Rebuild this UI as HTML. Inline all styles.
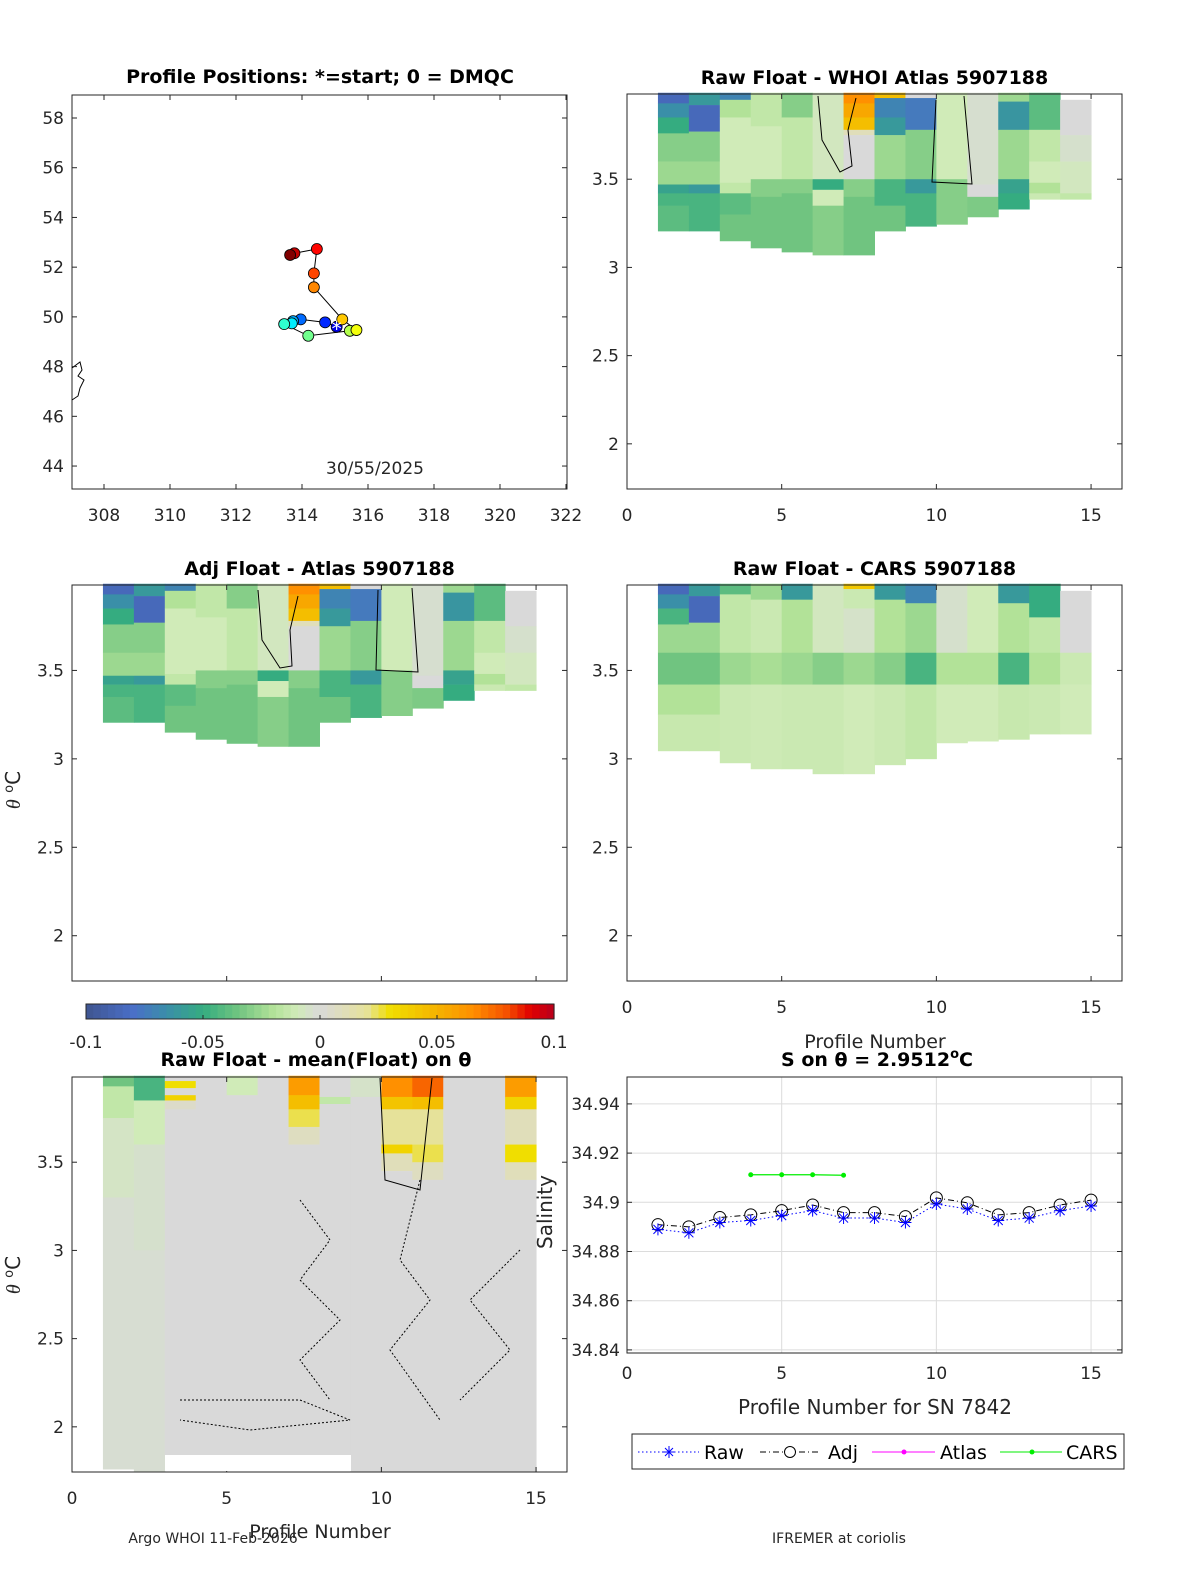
<!DOCTYPE html>
<html><head><meta charset="utf-8">
<style>
html,body{margin:0;padding:0;background:#fff;}
svg{display:block;font-family:"DejaVu Sans","Liberation Sans",sans-serif;}
.t{font-size:19px;font-weight:bold;text-anchor:middle;}
.tk{font-size:17px;fill:#262626;}
</style></head>
<body>
<svg id="fig" width="1200" height="1575" viewBox="0 0 1200 1575" xmlns="http://www.w3.org/2000/svg"></svg>
<script>
// ---- Map data (profile positions) ----
const mapLon = [315.05,314.70,313.96,313.73,313.69,313.46,314.19,315.45,315.65,315.22,314.36,314.36,314.45,313.77,313.64];
const mapLat = [49.60,49.78,49.90,49.83,49.74,49.71,49.24,49.44,49.47,49.90,51.19,51.75,52.73,52.56,52.49];
const mapXTicks = [308,310,312,314,316,318,320,322];
const mapYTicks = [44,46,48,50,52,54,56,58];
// ---- Salinity on theta ----
const profiles = [1,2,3,4,5,6,7,8,9,10,11,12,13,14,15];
const rawSal = [34.889,34.8876,34.8918,34.8926,34.8946,34.8966,34.8936,34.8936,34.8918,34.8993,34.8973,34.8926,34.8936,34.8966,34.8985];
const adjSal = [34.8909,34.8900,34.8938,34.8949,34.8966,34.8989,34.8958,34.8958,34.8942,34.9018,34.8998,34.8949,34.8958,34.8989,34.9009];
const carsProf = [4,5,6,7];
const carsSal = [34.9112,34.9112,34.9112,34.9110];
const salTicks = [34.84,34.86,34.88,34.9,34.92,34.94];
const profTicks = [0,5,10,15];
const thetaTicks = [2,2.5,3,3.5];
const cbTicks = [-0.1,-0.05,0,0.05,0.1];
// ---- Heatmaps: per column (profile p spans p..p+1) segments [thetaTop, thetaBottom, value] ----
const rawAtlas = [
 [[3.99,3.93,-0.085],[3.93,3.85,-0.065],[3.85,3.76,-0.05],[3.76,3.6,-0.03],[3.6,3.47,-0.025],[3.47,3.42,-0.055],[3.42,3.35,-0.045],[3.35,3.206,-0.04]],
 [[3.99,3.92,-0.06],[3.92,3.77,-0.085],[3.77,3.6,-0.03],[3.6,3.47,-0.025],[3.47,3.42,-0.06],[3.42,3.206,-0.045]],
 [[3.99,3.95,-0.07],[3.95,3.85,-0.02],[3.85,3.48,-0.01],[3.48,3.42,-0.015],[3.42,3.3,-0.04],[3.3,3.15,-0.035]],
 [[3.99,3.8,-0.015],[3.8,3.5,-0.01],[3.5,3.4,-0.03],[3.4,3.11,-0.035]],
 [[3.99,3.85,-0.03],[3.85,3.5,-0.015],[3.5,3.42,-0.03],[3.42,3.087,-0.035]],
 [[3.99,3.5,-0.008],[3.5,3.44,-0.05],[3.44,3.35,-0.01],[3.35,3.07,-0.03]],
 [[3.99,3.93,0.065],[3.93,3.85,0.055],[3.85,3.78,0.045],[3.78,3.75,0.01],[3.75,3.5,0],[3.5,3.4,-0.03],[3.4,3.07,-0.035]],
 [[3.99,3.96,0.045],[3.96,3.85,-0.07],[3.85,3.75,-0.06],[3.75,3.5,-0.025],[3.5,3.35,-0.045],[3.35,3.206,-0.035]],
 [[3.99,3.96,0],[3.96,3.78,-0.075],[3.78,3.5,-0.03],[3.5,3.42,-0.06],[3.42,3.233,-0.045]],
 [[3.99,3.5,-0.01],[3.5,3.244,-0.03]],
 [[3.99,3.47,-0.003],[3.47,3.4,0],[3.4,3.286,-0.032]],
 [[3.99,3.94,-0.025],[3.94,3.78,-0.062],[3.78,3.5,-0.025],[3.5,3.42,-0.055],[3.42,3.33,-0.05]],
 [[3.99,3.78,-0.04],[3.78,3.6,-0.015],[3.6,3.48,-0.01],[3.48,3.42,-0.02],[3.42,3.386,-0.012]],
 [[3.95,3.75,0],[3.75,3.6,-0.004],[3.6,3.42,-0.008],[3.42,3.386,-0.015]]
];
const adjAtlas = rawAtlas;
const rawCars = [
 [[3.99,3.93,-0.085],[3.93,3.85,-0.065],[3.85,3.76,-0.045],[3.76,3.6,-0.025],[3.6,3.42,-0.035],[3.42,3.25,-0.02],[3.25,3.045,-0.013]],
 [[3.99,3.92,-0.06],[3.92,3.77,-0.085],[3.77,3.6,-0.025],[3.6,3.42,-0.035],[3.42,3.25,-0.02],[3.25,3.045,-0.013]],
 [[3.99,3.93,-0.04],[3.93,3.6,-0.015],[3.6,3.42,-0.025],[3.42,2.977,-0.012]],
 [[3.99,3.9,-0.025],[3.9,3.6,-0.012],[3.6,3.42,-0.022],[3.42,2.943,-0.011]],
 [[3.99,3.9,-0.06],[3.9,3.6,-0.02],[3.6,3.42,-0.025],[3.42,2.943,-0.012]],
 [[3.99,3.6,-0.008],[3.6,3.42,-0.03],[3.42,2.915,-0.012]],
 [[3.99,3.96,0.04],[3.96,3.85,-0.012],[3.85,3.6,-0.005],[3.6,3.42,-0.025],[3.42,2.915,-0.01]],
 [[3.99,3.9,-0.06],[3.9,3.6,-0.02],[3.6,3.42,-0.03],[3.42,2.966,-0.012]],
 [[3.99,3.88,-0.07],[3.88,3.6,-0.025],[3.6,3.42,-0.045],[3.42,3.0,-0.015]],
 [[3.99,3.6,-0.004],[3.6,3.42,-0.02],[3.42,3.09,-0.01]],
 [[3.99,3.6,-0.01],[3.6,3.42,-0.02],[3.42,3.1,-0.01]],
 [[3.99,3.88,-0.06],[3.88,3.6,-0.02],[3.6,3.42,-0.045],[3.42,3.11,-0.013]],
 [[3.99,3.8,-0.05],[3.8,3.6,-0.015],[3.6,3.42,-0.02],[3.42,3.14,-0.012]],
 [[3.95,3.6,0],[3.6,3.42,-0.012],[3.42,3.14,-0.01]]
];
const rawMean = [
 [[3.99,3.93,-0.035],[3.93,3.75,-0.015],[3.75,3.3,-0.006],[3.3,1.76,-0.002]],
 [[3.99,3.85,-0.045],[3.85,3.6,-0.01],[3.6,3.0,-0.004],[3.0,1.744,-0.002]],
 [[3.99,3.96,0],[3.96,3.92,0.03],[3.92,3.88,0],[3.88,3.85,0.035],[3.85,3.8,0.005],[3.8,1.835,0]],
 [[3.99,1.835,0]],
 [[3.99,3.88,-0.01],[3.88,1.835,0]],
 [[3.99,1.835,0]],
 [[3.99,3.88,0.06],[3.88,3.8,0.045],[3.8,3.7,0.025],[3.7,3.6,0.008],[3.6,1.835,0]],
 [[3.99,3.87,0],[3.87,3.83,-0.015],[3.83,1.835,0]],
 [[3.99,3.87,-0.005],[3.87,1.744,0]],
 [[3.99,3.87,0.065],[3.87,3.8,0.042],[3.8,3.6,0.02],[3.6,3.55,0.035],[3.55,3.45,0.01],[3.45,1.744,0]],
 [[3.99,3.87,0.075],[3.87,3.8,0.045],[3.8,3.6,0.02],[3.6,3.5,0.025],[3.5,3.4,0.008],[3.4,1.744,0]],
 [[3.99,1.744,0]],
 [[3.99,3.87,0],[3.87,1.744,0]],
 [[3.99,3.87,0.06],[3.87,3.8,0.035],[3.8,3.6,0.01],[3.6,3.5,0.03],[3.5,3.4,0.01],[3.4,1.744,0]]
];

const NS='http://www.w3.org/2000/svg';
const svg=document.getElementById('fig');
function mk(tag,attrs,parent){const e=document.createElementNS(NS,tag);for(const k in attrs)e.setAttribute(k,attrs[k]);(parent||svg).appendChild(e);return e;}
function txt(s,x,y,attrs,parent){const e=mk('text',Object.assign({x:x,y:y},attrs||{}),parent);e.textContent=s;return e;}

const stops=[[-0.1,[63,85,144]],[-0.08,[74,111,200]],[-0.065,[58,143,168]],[-0.05,[53,172,128]],[-0.035,[112,196,128]],[-0.02,[178,226,152]],[-0.01,[208,235,184]],[0,[217,217,217]],[0.02,[230,226,154]],[0.03,[240,222,0]],[0.05,[245,179,0]],[0.065,[255,144,0]],[0.08,[245,80,0]],[0.09,[224,0,0]],[0.1,[184,0,30]]];
function cmap(v){v=Math.max(-0.1,Math.min(0.1,v));for(let i=0;i<stops.length-1;i++){const a=stops[i],b=stops[i+1];if(v<=b[0]){const t=(v-a[0])/(b[0]-a[0]);const c=a[1].map((x,j)=>Math.round(x+(b[1][j]-x)*t));return 'rgb('+c.join(',')+')';}}return 'rgb(184,0,30)';}

function thetaPanel(name,L,T,W,H,data,title,showX){
  const g=mk('g',{});
  
  
  const x=p=>L+p*(W/16);
  const y=t=>T+(3.983-t)*(H/(3.983-1.744));
  data.forEach((col,i)=>{
    const p=i+1;
    col.forEach(s=>{
      const r=mk('rect',{x:x(p),y:y(s[0]),width:x(p+1)-x(p)+0.5,height:y(s[1])-y(s[0])+0.3,fill:cmap(s[2])},g);
      
      
    });
  });
  const ax=mk('rect',{x:L,y:T,width:W,height:H,fill:'none',stroke:'#262626','stroke-width':1},g);
  
  
  thetaTicks.forEach(t=>{
    mk('line',{x1:L,x2:L+5,y1:y(t),y2:y(t),stroke:'#262626'},g);
    mk('line',{x1:L+W,x2:L+W-5,y1:y(t),y2:y(t),stroke:'#262626'},g);
    const lb=txt(String(t),L-8,y(t)+6,{class:'tk','text-anchor':'end'},g);
    
    
  });
  profTicks.forEach(p=>{
    mk('line',{x1:x(p),x2:x(p),y1:T+H,y2:T+H-5,stroke:'#262626'},g);
    mk('line',{x1:x(p),x2:x(p),y1:T,y2:T+5,stroke:'#262626'},g);
    if(showX){const lb=txt(String(p),x(p),T+H+32,{class:'tk','text-anchor':'middle'},g);
    
    }
  });
  const tt=txt(title,L+W/2,T-10,{class:'t'},g);
  
  
  return g;
}
thetaPanel('raw-atlas-panel',627,94,495,395,rawAtlas,'Raw Float - WHOI Atlas  5907188',true);
thetaPanel('adj-atlas-panel',72,585,495,396,adjAtlas,'Adj Float - Atlas  5907188',false);
thetaPanel('raw-cars-panel',627,585,495,396,rawCars,'Raw Float - CARS  5907188',true);
thetaPanel('raw-mean-panel',72,1077,495,395,rawMean,'',true);
const wr=mk('rect',{x:165,y:1455,width:186,height:16,fill:'#fff'});


const t4=txt('Raw Float - mean(Float) on \u03B8',316,1066,{class:'t'});



// contour hints
[['M818,96 L822,140 L840,172 L852,166 L848,130 L856,98','none'],
 ['M936,100 L932,182 L972,184 L964,96','none'],
 ['M258,590 L262,640 L280,668 L292,666 L290,630 L298,596','none'],
 ['M378,590 L376,670 L418,672 L412,588','none'],
 ['M380,1078 L385,1180 L420,1190 L432,1078','none'],
 ['M300,1200 L330,1240 L300,1280 L340,1320 L300,1360 L330,1400','2,2'],
 ['M420,1180 L400,1260 L430,1300 L390,1350 L440,1420','2,2'],
 ['M520,1250 L470,1300 L510,1350 L460,1400','2,2'],
 ['M180,1400 L300,1400 L350,1420 L250,1430 L180,1420','2,2']
].forEach(c=>{const p=mk('path',{d:c[0],stroke:'#000',fill:'none','stroke-width':1,'stroke-dasharray':c[1]});
 
 });

// colorbar
(function(){
  const g=mk('g',{});
  
  
  const L=86,R=554,T=1004,H=15;const n=64;
  for(let i=0;i<n;i++){const v=-0.1+0.2*(i+0.5)/n;
    mk('rect',{x:L+(R-L)*i/n,y:T,width:(R-L)/n+0.6,height:H,fill:cmap(v)},g);}
  mk('rect',{x:L,y:T,width:R-L,height:H,fill:'none',stroke:'#262626'},g);
  cbTicks.forEach(v=>{const xx=L+(R-L)*(v+0.1)/0.2;
    mk('line',{x1:xx,x2:xx,y1:T+H,y2:T+H-4,stroke:'#262626'},g);
    const lb=txt(String(v),xx,1048,{class:'tk','text-anchor':'middle','font-size':'16px'},g);
    
    });
})();

// map panel
(function(){
  const g=mk('g',{});
  
  
  const L=72,T=95,W=495,H=394;
  const x=lo=>104+(lo-308)*33;
  const y=la=>118+(58-la)*24.86;
  mk('rect',{x:L,y:T,width:W,height:H,fill:'#fff',stroke:'#262626'},g);
  const cl=mk('path',{d:'M72,368 L80,362 L82,370 L78,376 L84,380 L80,388 L78,396 L72,400',fill:'none',stroke:'#000'},g);
  
  
  mapXTicks.forEach(v=>{mk('line',{x1:x(v),x2:x(v),y1:T+H,y2:T+H-5,stroke:'#262626'},g);
    mk('line',{x1:x(v),x2:x(v),y1:T,y2:T+5,stroke:'#262626'},g);
    const lb=txt(String(v),x(v),T+H+32,{class:'tk','text-anchor':'middle'},g);
    
    });
  mapYTicks.forEach(v=>{mk('line',{x1:L,x2:L+5,y1:y(v),y2:y(v),stroke:'#262626'},g);
    mk('line',{x1:L+W,x2:L+W-5,y1:y(v),y2:y(v),stroke:'#262626'},g);
    const lb=txt(String(v),L-8,y(v)+6,{class:'tk','text-anchor':'end'},g);
    
    });
  let d='';mapLon.forEach((lo,i)=>{d+=(i?'L':'M')+x(lo)+','+y(mapLat[i]);});
  const tr=mk('path',{d:d,fill:'none',stroke:'#000','stroke-width':1},g);
  
  
  const jet=t=>{const r=Math.max(0,Math.min(1,1.5-Math.abs(4*t-3))),gg=Math.max(0,Math.min(1,1.5-Math.abs(4*t-2))),b=Math.max(0,Math.min(1,1.5-Math.abs(4*t-1)));return 'rgb('+[r,gg,b].map(c=>Math.round(c*255)).join(',')+')';};
  mapLon.forEach((lo,i)=>{const c=mk('circle',{cx:x(lo),cy:y(mapLat[i]),r:5.5,fill:jet(0.1+0.9*i/(mapLon.length-1)),stroke:'#000','stroke-width':0.8},g);
    
    });
  const st=txt('*',x(mapLon[0]),y(mapLat[0])+9,{'font-size':'20px',fill:'#fff','text-anchor':'middle'},g);
  
  
  const dt=txt('30/55/2025',375,474,{class:'tk','text-anchor':'middle'},g);
  
  
  const tt=txt('Profile Positions: *=start; 0 = DMQC',320,83,{class:'t'},g);
  
  
})();

// salinity panel
(function(){
  const g=mk('g',{});
  
  
  const L=627,T=1077,W=495,H=276;
  const x=p=>L+p*(W/16);
  const y=s=>1202.3-(s-34.9)*2460;
  mk('rect',{x:L,y:T,width:W,height:H,fill:'#fff'},g);
  salTicks.forEach(v=>{mk('line',{x1:L,x2:L+W,y1:y(v),y2:y(v),stroke:'#dcdcdc'},g);
    mk('line',{x1:L,x2:L+5,y1:y(v),y2:y(v),stroke:'#262626'},g);
    mk('line',{x1:L+W,x2:L+W-5,y1:y(v),y2:y(v),stroke:'#262626'},g);
    const lb=txt(String(v),620,y(v)+6,{class:'tk','text-anchor':'end'},g);
    
    });
  profTicks.forEach(v=>{mk('line',{x1:x(v),x2:x(v),y1:T,y2:T+H,stroke:'#dcdcdc'},g);
    const lb=txt(String(v),x(v),T+H+26,{class:'tk','text-anchor':'middle'},g);
    
    });
  mk('rect',{x:L,y:T,width:W,height:H,fill:'none',stroke:'#262626'},g);
  let d1='',d2='',d3='';
  profiles.forEach((p,i)=>{d1+=(i?'L':'M')+x(p)+','+y(adjSal[i]);d2+=(i?'L':'M')+x(p)+','+y(rawSal[i]);});
  carsProf.forEach((p,i)=>{d3+=(i?'L':'M')+x(p)+','+y(carsSal[i]);});
  const la=mk('path',{d:d1,fill:'none',stroke:'#000','stroke-dasharray':'6,3,1,3'},g);
  
  
  const lr=mk('path',{d:d2,fill:'none',stroke:'#0000ff','stroke-dasharray':'1.5,2.5'},g);
  
  
  const lc=mk('path',{d:d3,fill:'none',stroke:'#00ee00','stroke-width':1.2},g);
  
  
  profiles.forEach((p,i)=>{
    const c=mk('circle',{cx:x(p),cy:y(adjSal[i]),r:6,fill:'none',stroke:'#000'},g);
    
    
    const cx=x(p),cy=y(rawSal[i]);
    const s=mk('path',{d:`M${cx-6},${cy}L${cx+6},${cy}M${cx},${cy-6}L${cx},${cy+6}M${cx-4.5},${cy-4.5}L${cx+4.5},${cy+4.5}M${cx-4.5},${cy+4.5}L${cx+4.5},${cy-4.5}`,stroke:'#0000ff',fill:'none'},g);
    
    
  });
  carsProf.forEach((p,i)=>{const c=mk('circle',{cx:x(p),cy:y(carsSal[i]),r:2.5,fill:'#00ee00'},g);
    
    });
  const tt=mk('text',{x:877,y:1066,class:'t'},g);tt.innerHTML='S on \u03B8 = 2.9512<tspan dy="-8" font-size="13">o</tspan><tspan dy="8">C</tspan>';
  
  
  const xl=txt('Profile Number for SN 7842',875,1414,{'font-size':'20px','text-anchor':'middle',fill:'#262626'},g);
  
  
  const yl=txt('Salinity',552,1212,{'font-size':'20px','text-anchor':'middle',fill:'#262626',transform:'rotate(-90 552 1212)'},g);
  
  
})();

// legend
(function(){
  const g=mk('g',{});
  
  
  mk('rect',{x:632,y:1434,width:492,height:35,fill:'#fff',stroke:'#262626'},g);
  const yy=1452;
  mk('line',{x1:638,x2:699,y1:yy,y2:yy,stroke:'#0000ff','stroke-dasharray':'1.5,2.5'},g);
  mk('path',{d:`M663,${yy}h12M669,${yy-6}v12M665,${yy-4}l8,8M665,${yy+4}l8,-8`,stroke:'#0000ff'},g);
  const a=txt('Raw',704,yy+7,{'font-size':'19px'},g);
  mk('line',{x1:760,x2:820,y1:yy,y2:yy,stroke:'#000','stroke-dasharray':'6,3,1,3'},g);
  mk('circle',{cx:790,cy:yy,r:5.5,fill:'#fff',stroke:'#000'},g);
  const b=txt('Adj',828,yy+7,{'font-size':'19px'},g);
  mk('line',{x1:872,x2:935,y1:yy,y2:yy,stroke:'#ff00ff'},g);
  mk('circle',{cx:904,cy:yy,r:2.5,fill:'#ff00ff'},g);
  const c=txt('Atlas',940,yy+7,{'font-size':'19px'},g);
  mk('line',{x1:1000,x2:1062,y1:yy,y2:yy,stroke:'#00ee00'},g);
  mk('circle',{cx:1032,cy:yy,r:2.5,fill:'#00ee00'},g);
  const d=txt('CARS',1066,yy+7,{'font-size':'19px'},g);
})();

[['Profile Number',875,1048,'19px','x-axis-title'],['Profile Number',320,1538,'19px','x-axis-title'],
 ['Argo WHOI 11-Feb-2026',213,1543,'14px','footer-left'],['IFREMER at coriolis',839,1543,'14px','footer-right']].forEach(a=>{
  const e=txt(a[0],a[1],a[2],{'font-size':a[3],'text-anchor':'middle',fill:'#262626'});
  
  
});
[[20,790],[20,1275]].forEach(a=>{
  const e=mk('text',{x:a[0],y:a[1],'font-size':'20px','text-anchor':'middle',fill:'#262626',transform:`rotate(-90 ${a[0]} ${a[1]})`});
  e.innerHTML='<tspan font-style="italic" font-family="Liberation Serif">\u03B8</tspan> <tspan dy="-7" font-size="13">o</tspan><tspan dy="7">C</tspan>';
  
  
});
</script>
</body></html>
